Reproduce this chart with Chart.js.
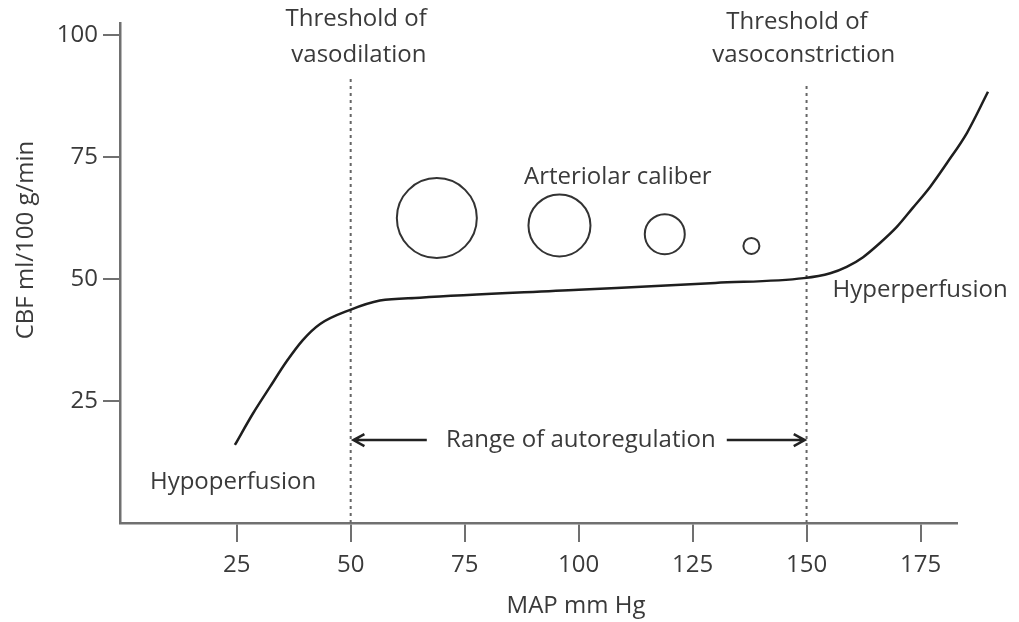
<!DOCTYPE html>
<html>
<head>
<meta charset="utf-8">
<script src="https://cdn.jsdelivr.net/npm/chart.js"></script>
<style>
  html, body { margin: 0; padding: 0; background: #fff; }
  #wrap { width: 1019px; height: 622px; }
</style>
</head>
<body>
<div id="wrap"><canvas id="cbfChart" width="1019" height="622"></canvas></div>
<script>
// Curva de autorregulación (MAP vs CBF)
const mapValues = [24.6, 28.6, 32.3, 36.0, 39.5, 43.3, 49.9, 56.4, 65.2, 100, 130, 149.4, 155.2, 158.8, 162.4, 166.1, 169.8, 173.3, 177.1, 180.8, 185.2, 189.8];
const cbfValues = [16.0, 22.5, 27.9, 33.2, 37.5, 40.8, 43.7, 45.6, 46.2, 47.8, 49.2, 50.2, 51.2, 52.5, 54.5, 57.4, 60.7, 64.6, 68.9, 73.8, 80.0, 88.4];

// Calibre arteriolar (círculos)
const caliberX = [68.9, 95.8, 118.9, 137.9];
const caliberY = [62.5, 61, 59.2, 56.8];

// Umbrales
const thresholdX = [50, 150];
const thresholdTop = [91.4, 90.2];

// Ticks
const xTicks = [25, 50, 75, 100, 125, 150, 175];
const yTicks = [25, 50, 75, 100];

// Textos
const notes = [
    { text: "Threshold of", x: 51.2, y: 102.5, dy: -4 },
    { text: "vasodilation", x: 51.8, y: 102.5, dy: 32 },
    { text: "Threshold of", x: 147.9, y: 102.5, dy: -1 },
    { text: "vasoconstriction", x: 149.4, y: 102.5, dy: 32 },
    { text: "Arteriolar caliber", x: 108.6, y: 70.9 },
    { text: "Hyperperfusion", x: 174.9, y: 47.8 },
    { text: "Hypoperfusion", x: 24.2, y: 8.4 },
    { text: "Range of autoregulation", x: 100.5, y: 17 }
];

const textColor = '#3a3a3a';
const fontFamily = '"Open Sans", "Noto Sans", sans-serif';
const caliberRadius = [40, 31, 20, 8];

const toPoints = (xs, ys) => xs.map((x, i) => ({ x: x, y: ys[i] }));

// Plugin para textos y flechas
const notesPlugin = {
    id: 'notes',
    afterDraw(chart) {
        const c = chart.ctx;
        const xs = chart.scales.x;
        const ys = chart.scales.y;
        c.save();
        c.fillStyle = textColor;
        c.font = '24px ' + fontFamily;
        c.textAlign = 'center';
        c.textBaseline = 'middle';
        notes.forEach(n => {
            c.fillText(n.text, xs.getPixelForValue(n.x), ys.getPixelForValue(n.y) + (n.dy || 0));
        });

        // títulos de ejes
        c.fillText('MAP mm Hg', 576, 606);
        c.translate(26, 240);
        c.rotate(-Math.PI / 2);
        c.fillText('CBF ml/100 g/min', 0, 0);
        c.restore();

        // flechas del rango
        c.save();
        c.strokeStyle = '#222';
        c.lineWidth = 2.5;
        const ay = ys.getPixelForValue(17);
        const arrow = (x1, x2) => {
            const p1 = xs.getPixelForValue(x1);
            const p2 = xs.getPixelForValue(x2);
            const d = p2 > p1 ? -1 : 1;
            c.beginPath();
            c.moveTo(p1, ay);
            c.lineTo(p2, ay);
            c.moveTo(p2 + d * 11, ay - 6);
            c.lineTo(p2, ay);
            c.lineTo(p2 + d * 11, ay + 6);
            c.stroke();
        };
        arrow(66.7, 50.6);
        arrow(132.5, 149.6);
        c.restore();
    }
};

const ctx = document.getElementById('cbfChart').getContext('2d');
const cbfChart = new Chart(ctx, {
    type: 'scatter',
    data: {
        datasets: [
            {
                label: 'CBF',
                data: toPoints(mapValues, cbfValues),
                showLine: true,
                cubicInterpolationMode: 'monotone',
                borderColor: '#1e1e1e',
                borderWidth: 2.5,
                pointRadius: 0,
                clip: false
            },
            {
                label: 'Arteriolar caliber',
                data: toPoints(caliberX, caliberY),
                showLine: false,
                pointRadius: caliberRadius,
                pointHoverRadius: caliberRadius,
                pointBackgroundColor: 'rgba(0,0,0,0)',
                pointBorderColor: '#333',
                pointBorderWidth: 2
            },
            {
                label: 'Threshold of vasodilation',
                data: [{ x: thresholdX[0], y: 0 }, { x: thresholdX[0], y: thresholdTop[0] }],
                showLine: true,
                borderColor: '#666',
                borderWidth: 2,
                borderDash: [3, 4],
                pointRadius: 0
            },
            {
                label: 'Threshold of vasoconstriction',
                data: [{ x: thresholdX[1], y: 0 }, { x: thresholdX[1], y: thresholdTop[1] }],
                showLine: true,
                borderColor: '#666',
                borderWidth: 2,
                borderDash: [3, 4],
                pointRadius: 0
            }
        ]
    },
    options: {
        responsive: false,
        animation: false,
        layout: { autoPadding: false, padding: { left: 0, top: 23, right: 62, bottom: 0 } },
        plugins: {
            legend: { display: false },
            tooltip: { enabled: false }
        },
        scales: {
            x: {
                type: 'linear',
                bounds: 'data',
                // el rango se fija aquí para que la curva siga más allá del eje
                afterDataLimits: scale => { scale.min = -0.6; scale.max = 183; },
                afterBuildTicks: scale => { scale.ticks = xTicks.map(v => ({ value: v })); },
                afterFit: scale => { scale.height = 99; },
                border: { display: true, color: '#707070', width: 2.5 },
                grid: { drawOnChartArea: false, tickLength: 19, tickColor: '#707070', lineWidth: 2 },
                ticks: { color: textColor, padding: 9, font: { size: 24, family: fontFamily } }
            },
            y: {
                type: 'linear',
                min: 0,
                max: 102.5,
                afterBuildTicks: scale => { scale.ticks = yTicks.map(v => ({ value: v })); },
                afterFit: scale => { scale.width = 120; },
                border: { display: true, color: '#707070', width: 2.5 },
                grid: { drawOnChartArea: false, tickLength: 17, tickColor: '#707070', lineWidth: 2 },
                ticks: { color: textColor, padding: 5, font: { size: 24, family: fontFamily } }
            }
        }
    },
    plugins: [notesPlugin]
});
</script>
</body>
</html>
